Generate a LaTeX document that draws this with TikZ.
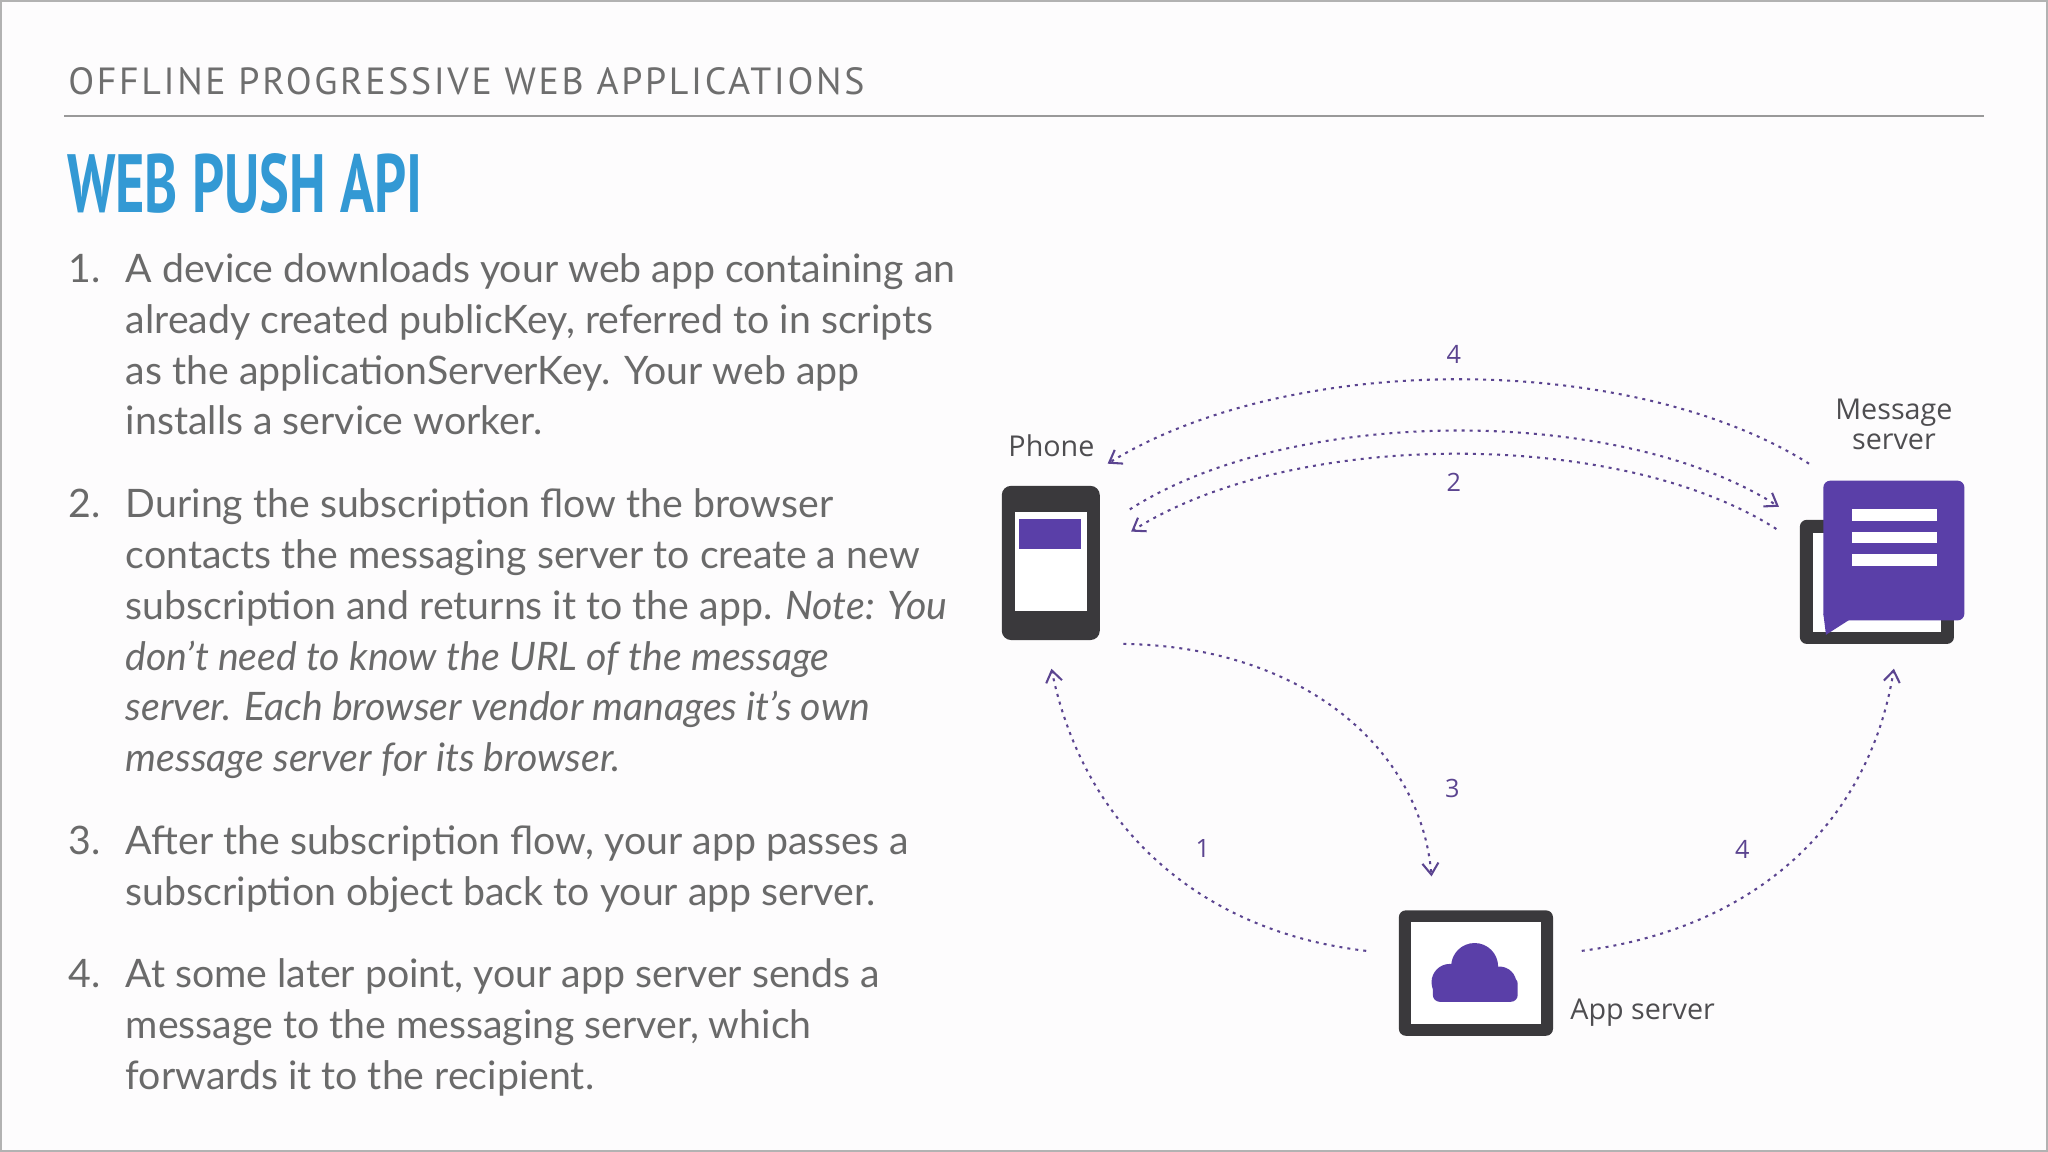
\documentclass[tikz,border=0pt]{standalone}
\usepackage{fontspec}
\setmainfont{Lato}
\newfontfamily\headfont[LetterSpace=7]{PT Sans}
\newfontfamily\titlefont[FakeStretch=0.68]{PT Sans}
\newfontfamily\diafont{Open Sans}
\usetikzlibrary{arrows.meta}
\definecolor{txt}{HTML}{6A6A6A}
\definecolor{hd}{HTML}{6E6E6E}
\definecolor{ttl}{HTML}{3399D4}
\definecolor{pur}{HTML}{5A3FA8}
\definecolor{arr}{HTML}{5B4490}
\definecolor{dk}{HTML}{3A393C}
\definecolor{bg}{HTML}{FDFCFD}
\tikzset{
  ln/.style={anchor=base west,inner sep=0pt,text=txt,font=\fontsize{17.1}{20}\selectfont},
  num/.style={ln},
  flow/.style={draw=arr,line width=0.9pt,dash pattern=on 1.3pt off 2.2pt,-{Straight Barb[length=5pt,width=7pt]}},
  lab/.style={text=arr,font=\diafont\fontsize{11}{12}\selectfont,inner sep=0pt},
  dlab/.style={text=dk!90,font=\diafont\fontsize{12.5}{14}\selectfont,inner sep=0pt,align=center},
}
\begin{document}
\begin{tikzpicture}[x=0.02cm,y=-0.02cm]
\useasboundingbox (0,0) rectangle (1568,882);
\fill[bg] (0,0) rectangle (1568,882);
\draw[gray!60,line width=0.8pt] (0.5,0.5) rectangle (1567.5,881.5);
% header
\node[anchor=base west,inner sep=0pt,text=hd,font=\headfont\fontsize{16.5}{20}\selectfont] (hdr) at (52,72) {OFFLINE PROGRESSIVE WEB APPLICATIONS};
\draw[gray!80,line width=0.9pt] (49,89) -- (1519,89);
\node[anchor=base west,inner sep=0pt,text=ttl,font=\titlefont\bfseries\fontsize{36}{40}\selectfont] (title) at (51,163) {WEB PUSH API};
% list
\node[num] (n1) at (52,216) {1.};
\node[ln] (l11) at (96,216) {A device downloads your web app containing an};
\node[ln] (l12) at (96,255) {already created publicKey, referred to in scripts};
\node[ln] (l13) at (96,294) {as the applicationServerKey. Your web app};
\node[ln] (l14) at (96,333) {installs a service worker.};
\node[num] (n2) at (52,396) {2.};
\node[ln] (l21) at (96,396) {During the subscription flow the browser};
\node[ln] (l22) at (96,435) {contacts the messaging server to create a new};
\node[ln] (l23) at (96,474) {subscription and returns it to the app. \textit{Note: You}};
\node[ln] (l24) at (96,513) {\textit{don't need to know the URL of the message}};
\node[ln] (l25) at (96,552) {\textit{server. Each browser vendor manages it's own}};
\node[ln] (l26) at (96,591) {\textit{message server for its browser.}};
\node[num] (n3) at (52,654) {3.};
\node[ln] (l31) at (96,654) {After the subscription flow, your app passes a};
\node[ln] (l32) at (96,693) {subscription object back to your app server.};
\node[num] (n4) at (52,756) {4.};
\node[ln] (l41) at (96,756) {At some later point, your app server sends a};
\node[ln] (l42) at (96,795) {message to the messaging server, which};
\node[ln] (l43) at (96,834) {forwards it to the recipient.};
% phone
\fill[dk,rounded corners=4pt] (767,372) rectangle (842,490);
\fill[white] (777,392) rectangle (832,468);
\fill[pur] (780,397) rectangle (828,420);
\node[dlab] (phone) at (805,341) {Phone};
% message server
\fill[dk,rounded corners=3pt] (1378,398) rectangle (1496,493);
\fill[white] (1388,408) rectangle (1486,484);
\fill[pur,rounded corners=3pt] (1396,368) rectangle (1504,475);
\fill[pur] (1396,470) -- (1423,470) -- (1398,486) -- cycle;
\foreach \yy in {390,407,424} \fill[white] (1418,\yy) rectangle (1483,\yy+9);
\node[dlab] (msg) at (1450,325) {Message\\[-1pt]server};
% app server
\fill[dk,rounded corners=3pt] (1071,697) rectangle (1189,793);
\fill[white] (1080,706) rectangle (1180,784);
\fill[pur] (1129,740) circle (18);
\fill[pur] (1110,752) circle (14);
\fill[pur] (1148,753) circle (13);
\fill[pur,rounded corners=3pt] (1097,748) rectangle (1162,767);
\node[dlab,anchor=west] (app) at (1202,775) {App server};
% connector coordinates
\coordinate (a4s) at (1385,355); \coordinate (a4e) at (848,355);
\coordinate (a2s) at (865,390); \coordinate (a2e) at (1362,388);
\coordinate (b2s) at (1360,405); \coordinate (b2e) at (866,407);
\coordinate (a3s) at (860,493); \coordinate (a3e) at (1096,671);
\coordinate (a1s) at (1046,728); \coordinate (a1e) at (805,512);
\coordinate (c4s) at (1211,728); \coordinate (c4e) at (1450,512);
\draw[flow] (a4s) .. controls (1250,270) and (990,268) .. (a4e);
\draw[flow] (a2s) .. controls (990,310) and (1240,310) .. (a2e);
\draw[flow] (b2s) .. controls (1240,328) and (990,328) .. (b2e);
\draw[flow] (a3s) .. controls (1000,495) and (1088,575) .. (a3e);
\draw[flow] (a1s) .. controls (910,712) and (828,625) .. (a1e);
\draw[flow] (c4s) .. controls (1350,710) and (1432,625) .. (c4e);
\node[lab] (t4a) at (1113,271) {4};
\node[lab] (t2) at (1113,369) {2};
\node[lab] (t3) at (1112,604) {3};
\node[lab] (t1) at (921,650) {1};
\node[lab] (t4b) at (1334,650) {4};
\end{tikzpicture}
\end{document}
